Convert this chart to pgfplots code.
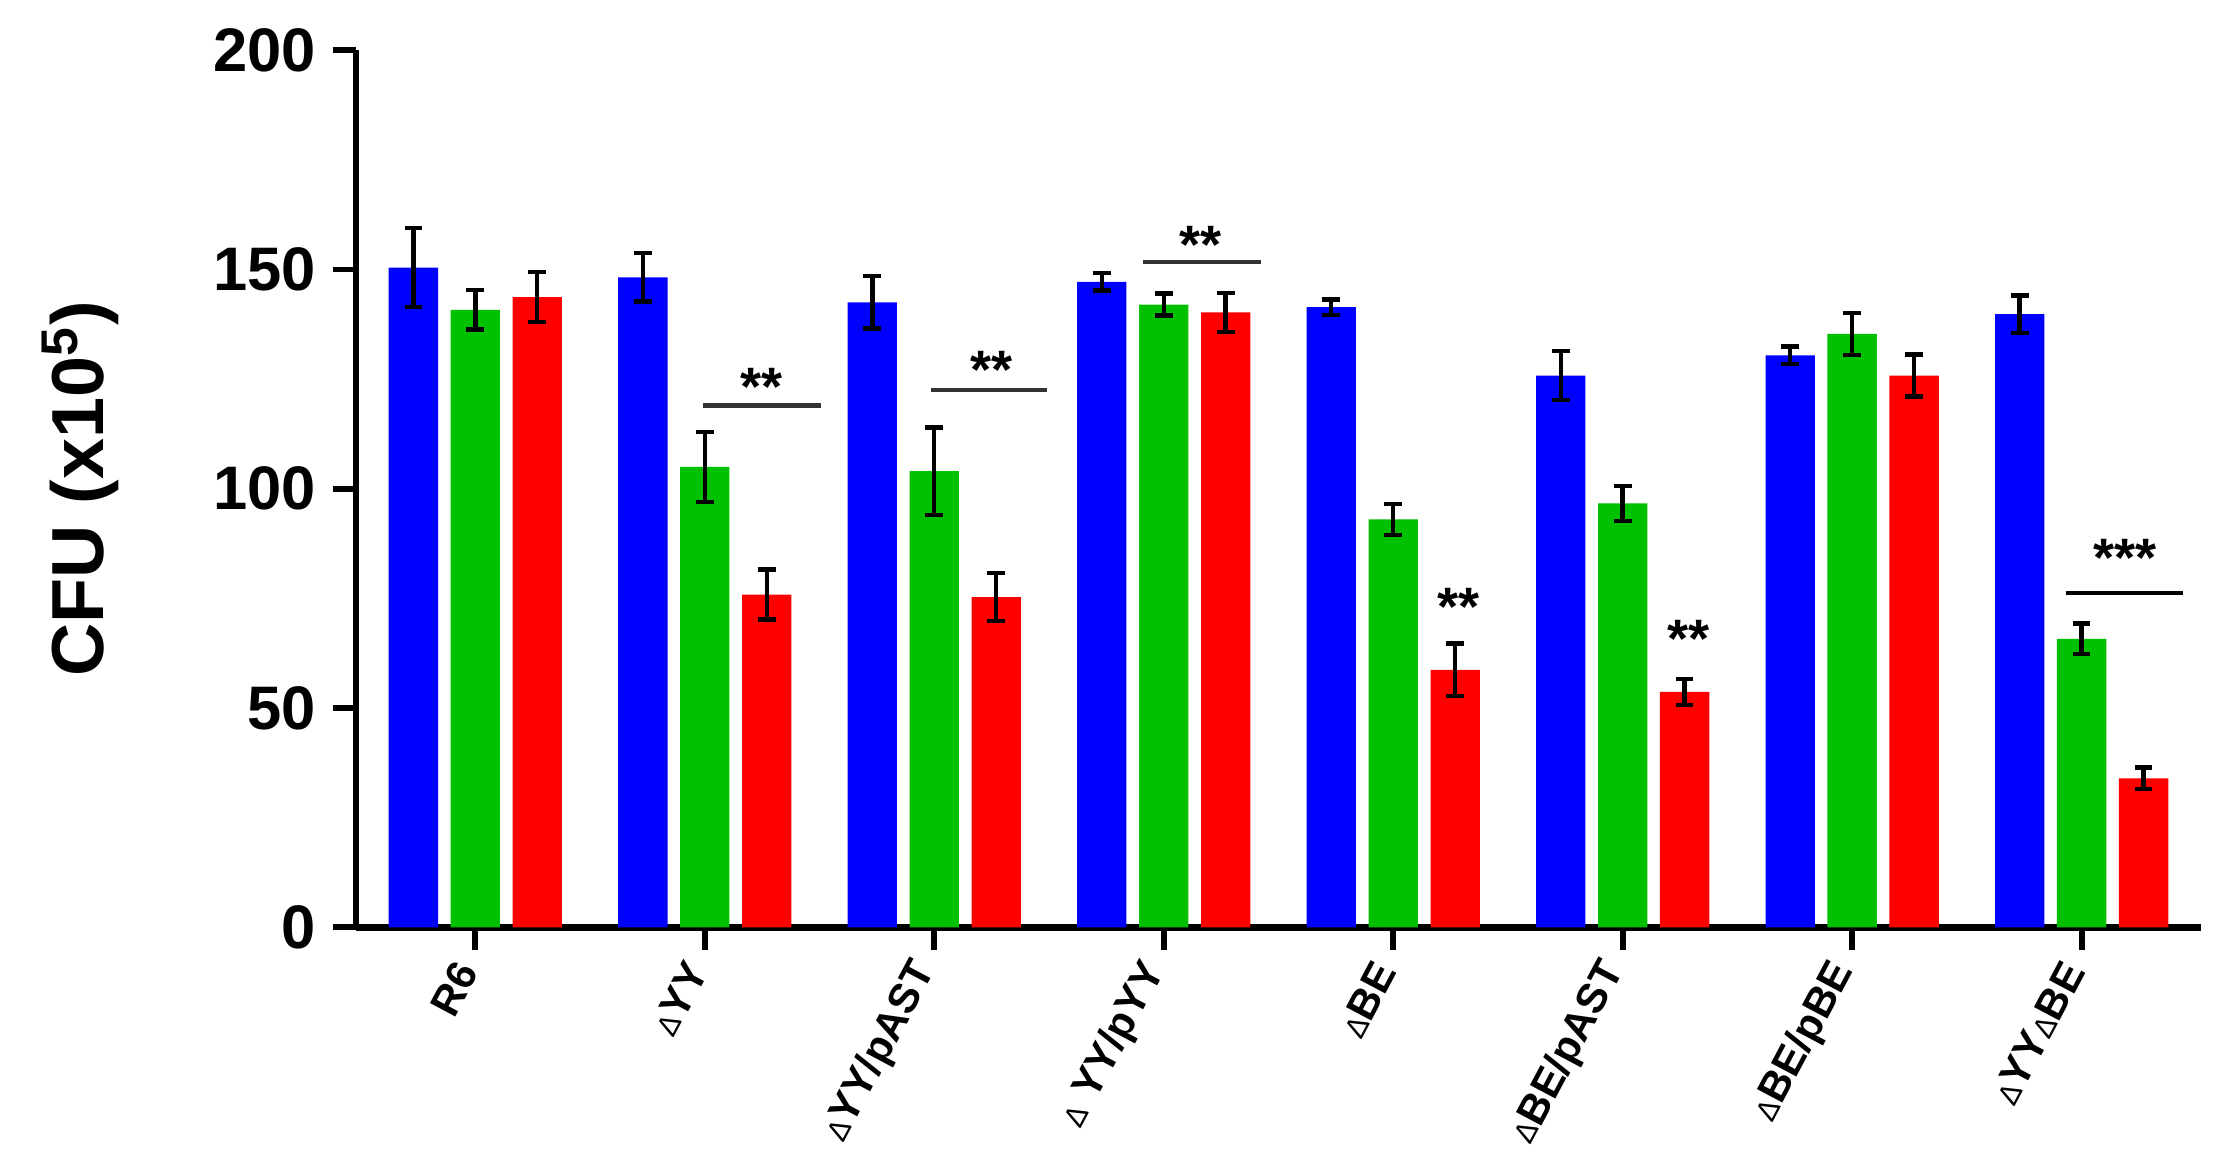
\documentclass[border=0pt]{standalone}
\usepackage{pgfplots}
\pgfplotsset{compat=1.18}
\usepackage{fontspec}
\setmainfont{Liberation Sans}

\definecolor{barblue}{RGB}{0,0,255}
\definecolor{bargreen}{RGB}{0,192,0}
\definecolor{barred}{RGB}{255,0,0}

% x = group, y = mean CFU (x10^5), e = error
\pgfplotstableread{
x y e
0 150.4 9.0
1 148.2 5.5
2 142.5 6.0
3 147.2 2.0
4 141.4 1.8
5 125.8 5.6
6 130.4 2.0
7 139.8 4.3
}\blueT
\pgfplotstableread{
x y e
0 140.8 4.5
1 105.0 8.0
2 104.0 10.0
3 142.0 2.5
4 93.0 3.5
5 96.7 4.0
6 135.3 4.8
7 65.8 3.5
}\greenT
\pgfplotstableread{
x y e
0 143.7 5.7
1 75.9 5.7
2 75.3 5.5
3 140.2 4.5
4 58.7 6.0
5 53.7 3.0
6 125.8 4.8
7 34.0 2.5
}\redT

\newcommand{\dl}{{\fontsize{6}{6}\mdseries Δ}}

\begin{document}
\begin{tikzpicture}
\path[use as bounding box] (-72.4pt,-48pt) rectangle (381.1pt,188.6pt);
\begin{axis}[
    scale only axis,
    width=375.2pt, height=178.4pt,
    at={(0,0)}, anchor=south west,
    ybar,
    xmin=-0.52, xmax=7.52,
    ymin=0, ymax=200,
    axis lines=left,
    axis line style={-, line width=1.4pt},
    tick style={line width=1.2pt, black},
    major tick length=4.6pt,
    tick align=outside,
    ytick={0,50,100,150,200},
    xtick={0,...,7},
    xticklabels={R6, \dl YY, \dl YY/pAST, \dl\ YY/pYY, \dl BE, \dl BE/pAST, \dl BE/pBE, \dl YY\dl BE},
    xticklabel style={rotate=62, anchor=east, font=\bfseries\fontsize{8.5}{8.5}\selectfont},
    yticklabel style={font=\bfseries\fontsize{12.5}{12.5}\selectfont},
    /pgf/number format/assume math mode=true,
    ylabel={CFU (x10\textsuperscript{5})},
    ylabel style={at={(axis description cs:-0.1495,0.5)}, anchor=center, font=\bfseries\fontsize{15}{15}\selectfont},
    bar width=0.215,
    clip=false,
]
\addplot[fill=barblue, draw=none, bar shift=-0.27,
    error bars/.cd, y dir=both, y explicit,
    error bar style={line width=0.9pt, black},
    error mark options={black, rotate=90, mark size=1.8pt, line width=0.9pt}]
    table[x=x, y=y, y error=e] {\blueT};
\addplot[fill=bargreen, draw=none, bar shift=0,
    error bars/.cd, y dir=both, y explicit,
    error bar style={line width=0.9pt, black},
    error mark options={black, rotate=90, mark size=1.8pt, line width=0.9pt}]
    table[x=x, y=y, y error=e] {\greenT};
\addplot[fill=barred, draw=none, bar shift=0.27,
    error bars/.cd, y dir=both, y explicit,
    error bar style={line width=0.9pt, black},
    error mark options={black, rotate=90, mark size=1.8pt, line width=0.9pt}]
    table[x=x, y=y, y error=e] {\redT};

% significance marks
\draw[line width=0.9pt, black!80] (axis cs:0.99,119) -- (axis cs:1.507,119);
\node[font=\bfseries\fontsize{11}{11}\selectfont, yshift=-2.5pt] at (axis cs:1.246,126) {**};
\draw[line width=0.9pt, black!80] (axis cs:1.984,122.5) -- (axis cs:2.492,122.5);
\node[font=\bfseries\fontsize{11}{11}\selectfont, yshift=-2.5pt] at (axis cs:2.25,130) {**};
\draw[line width=0.9pt, black!80] (axis cs:2.908,151.7) -- (axis cs:3.422,151.7);
\node[font=\bfseries\fontsize{11}{11}\selectfont, yshift=-2.5pt] at (axis cs:3.16,158.5) {**};
\node[font=\bfseries\fontsize{11}{11}\selectfont, yshift=-2.5pt] at (axis cs:4.284,75.8) {**};
\node[font=\bfseries\fontsize{11}{11}\selectfont, yshift=-2.5pt] at (axis cs:5.288,68.5) {**};
\draw[line width=0.9pt, black] (axis cs:6.931,76.2) -- (axis cs:7.44,76.2);
\node[font=\bfseries\fontsize{11}{11}\selectfont, yshift=-2.5pt] at (axis cs:7.19,87) {***};
\end{axis}
\end{tikzpicture}
\end{document}
